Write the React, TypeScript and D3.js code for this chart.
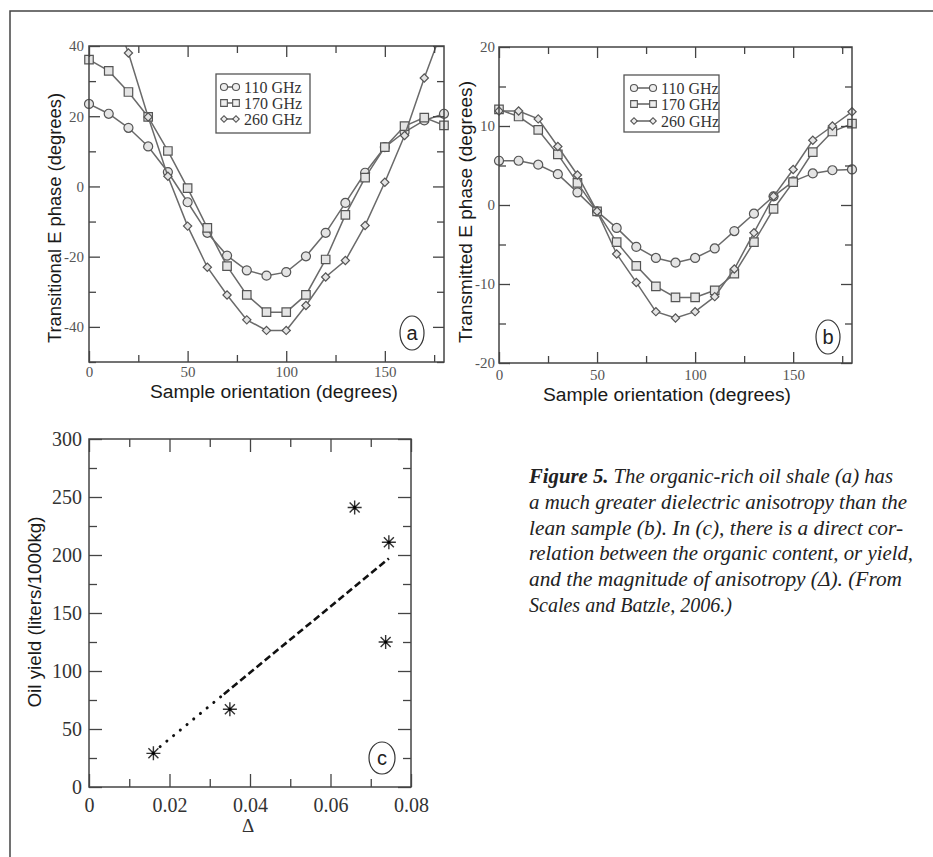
import React, { useRef, useEffect } from 'react';
import * as d3 from 'd3';

// sample orientation (degrees), shared by panels a and b
const angles = [0, 10, 20, 30, 40, 50, 60, 70, 80, 90, 100, 110, 120, 130, 140, 150, 160, 170, 180];
const freqLabels = ['110 GHz', '170 GHz', '260 GHz'];

// panel a: transitional E phase (degrees)
const phaseA110 = [23.5, 20.7, 16.7, 11.4, 4.1, -4.5, -13.2, -19.7, -23.9, -25.4, -24.4, -19.9, -13.2, -4.7, 3.9, 11.2, 15.5, 18.8, 20.7];
const phaseA170 = [36.1, 32.9, 26.9, 19.8, 10.1, -0.5, -11.8, -22.7, -30.9, -35.8, -35.8, -30.9, -20.8, -8.1, 2.5, 11.2, 17.2, 19.6, 17.4];
const phaseA260 = [62, 53, 38, 19.8, 2.9, -11.3, -23, -30.9, -38, -41, -41, -33.9, -25.8, -21.1, -11.1, 1.2, 14.5, 30.9, 46];

// panel b: transmitted E phase (degrees)
const phaseB110 = [5.6, 5.6, 5.1, 3.9, 1.6, -0.8, -2.9, -5.3, -6.7, -7.3, -6.7, -5.5, -3.3, -1.1, 1.1, 3.0, 4.0, 4.4, 4.5];
const phaseB170 = [12.1, 11.2, 9.5, 6.4, 2.8, -0.8, -4.7, -7.7, -10.3, -11.7, -11.7, -10.8, -8.7, -4.7, -0.5, 2.9, 6.7, 9.3, 10.3];
const phaseB260 = [11.9, 11.9, 10.9, 7.4, 3.8, -0.8, -6.2, -9.8, -13.5, -14.3, -13.5, -11.6, -8.1, -3.5, 1.1, 4.5, 8.2, 10.0, 11.8];

// panel c: anisotropy vs oil yield
const deltaValues = [0.016, 0.035, 0.066, 0.0745, 0.0737];
const oilYield = [29, 67, 241, 211, 125];
const fitDelta = [0.016, 0.0335, 0.0745];
const fitYield = [30, 80, 197];

const captionLines = [
  ' The organic-rich oil shale (a) has',
  'a much greater dielectric anisotropy than the',
  'lean sample (b). In (c), there is a direct cor-',
  'relation between the organic content, or yield,',
  'and the magnitude of anisotropy (\u0394). (From',
  'Scales and Batzle, 2006.)',
];
const captionWidths = [364, 378, 374, 384, 373, 203];

const SERIF = "'Liberation Serif', 'Times New Roman', serif";
const SANS = "'Liberation Sans', Arial, sans-serif";
const CURVE = '#6a6a6a';
const INK = '#444';

const symbolTypes = [d3.symbolCircle, d3.symbolSquare, d3.symbolSquare];
const symbolRot = [0, 0, 45];
const symbolSize = [64, 72, 34];

// plain hyphen for negatives, like the original plots
const plainFmt = (v) => String(v);

function drawAxes(g, x, y, o) {
  const [x0, x1] = x.range();
  const [yb, yt] = y.range();
  const sides = [
    { axis: d3.axisBottom, scale: x, t: `translate(0,${yb})`, major: o.xMajor, minor: o.xMinor, label: true, pad: o.xPad, fmt: o.xFmt },
    { axis: d3.axisTop, scale: x, t: `translate(0,${yt})`, major: o.xMajor, minor: o.xMinor },
    { axis: d3.axisLeft, scale: y, t: `translate(${x0},0)`, major: o.yMajor, minor: o.yMinor, label: true, pad: o.yPad, fmt: o.yFmt },
    { axis: d3.axisRight, scale: y, t: `translate(${x1},0)`, major: o.yMajor, minor: o.yMinor },
  ];
  sides.forEach((s) => {
    const gm = g.append('g').attr('transform', s.t)
      .call(s.axis(s.scale).tickValues(s.minor).tickSize(-o.minorLen).tickFormat(() => ''));
    gm.select('.domain').remove();
    const ga = g.append('g').attr('transform', s.t)
      .call(s.axis(s.scale).tickValues(s.major).tickSize(-o.majorLen)
        .tickPadding(s.pad || 0)
        .tickFormat(s.label ? (s.fmt || plainFmt) : () => ''));
    ga.select('.domain').remove();
    ga.selectAll('text')
      .attr('font-family', SERIF)
      .attr('font-size', o.fontSize)
      .attr('fill', o.labelColor);
    g.selectAll('.tick line').attr('stroke', INK).attr('stroke-width', 1.3);
  });
  g.append('rect')
    .attr('x', x0).attr('y', yt)
    .attr('width', x1 - x0).attr('height', yb - yt)
    .attr('fill', 'none').attr('stroke', INK).attr('stroke-width', 1.5);
}

function drawSeries(g, x, y, values, i, clipId) {
  const pts = angles.map((a, k) => ({ a, v: values[k] }));
  const line = d3.line().x((d) => x(d.a)).y((d) => y(d.v));
  g.append('path')
    .datum(pts)
    .attr('clip-path', `url(#${clipId})`)
    .attr('d', line)
    .attr('fill', 'none')
    .attr('stroke', CURVE)
    .attr('stroke-width', 1.5);
  const [lo, hi] = y.domain();
  g.selectAll(null)
    .data(pts.filter((d) => d.v >= lo && d.v <= hi))
    .enter()
    .append('path')
    .attr('d', d3.symbol().type(symbolTypes[i]).size(symbolSize[i]))
    .attr('transform', (d) => `translate(${x(d.a)},${y(d.v)}) rotate(${symbolRot[i]})`)
    .attr('fill', '#e4e4e4')
    .attr('stroke', '#555')
    .attr('stroke-width', 1.2);
}

function drawLegend(g, x0, y0, w, h, rowYs, symX) {
  g.append('rect')
    .attr('x', x0).attr('y', y0).attr('width', w).attr('height', h)
    .attr('fill', '#fff').attr('stroke', '#555').attr('stroke-width', 1.3);
  freqLabels.forEach((lab, i) => {
    const yy = rowYs[i];
    g.append('line')
      .attr('x1', symX[0]).attr('x2', symX[1]).attr('y1', yy).attr('y2', yy)
      .attr('stroke', '#555').attr('stroke-width', 1.4);
    symX.forEach((sx) => {
      g.append('path')
        .attr('d', d3.symbol().type(symbolTypes[i]).size(symbolSize[i] * 0.62))
        .attr('transform', `translate(${sx},${yy}) rotate(${symbolRot[i]})`)
        .attr('fill', '#eee').attr('stroke', '#555').attr('stroke-width', 1.1);
    });
    g.append('text')
      .attr('x', symX[1] + 8).attr('y', yy + 5.5)
      .attr('font-family', SERIF).attr('font-size', 16).attr('fill', '#333')
      .text(lab);
  });
}

function panelTag(g, cx, cy, rx, ry, t) {
  g.append('ellipse')
    .attr('cx', cx).attr('cy', cy).attr('rx', rx).attr('ry', ry)
    .attr('fill', '#fff').attr('stroke', '#333').attr('stroke-width', 1.2);
  g.append('text')
    .attr('x', cx).attr('y', cy + 7)
    .attr('text-anchor', 'middle')
    .attr('font-family', SANS).attr('font-size', 20).attr('fill', '#222')
    .text(t);
}

function axisTitle(g, text, cx, cy, len, rotate, size = 18) {
  g.append('text')
    .attr('transform', rotate ? `translate(${cx},${cy}) rotate(-90)` : `translate(${cx},${cy})`)
    .attr('text-anchor', 'middle')
    .attr('font-family', SANS).attr('font-size', size).attr('fill', '#1a1a1a')
    .attr('textLength', len).attr('lengthAdjust', 'spacingAndGlyphs')
    .text(text);
}

const App = () => {
  const svgRef = useRef(null);

  useEffect(() => {
    const svg = d3.select(svgRef.current);
    svg.selectAll('*').remove();

    // page frame
    svg.append('path')
      .attr('d', 'M10,857 L10,11 L933,11')
      .attr('fill', 'none').attr('stroke', '#444').attr('stroke-width', 1.5);

    const defs = svg.append('defs');

    // ---- panel a
    const xa = d3.scaleLinear().domain([0, 180]).range([89, 444]);
    const ya = d3.scaleLinear().domain([-50, 40]).range([362, 46]);
    defs.append('clipPath').attr('id', 'clipA').append('rect')
      .attr('x', 89).attr('y', 46).attr('width', 355).attr('height', 316);
    const ga = svg.append('g');
    [phaseA110, phaseA170, phaseA260].forEach((vals, i) => drawSeries(ga, xa, ya, vals, i, 'clipA'));
    drawAxes(ga, xa, ya, {
      xMajor: [0, 50, 100, 150], xMinor: [25, 75, 125, 175],
      yMajor: [-40, -20, 0, 20, 40], yMinor: [-50, -30, -10, 10, 30],
      majorLen: 11, minorLen: 7, fontSize: 15, labelColor: '#555', xPad: 4, yPad: 5,
    });
    drawLegend(ga, 216, 74, 94, 59, [87, 103, 119], [224, 236]);
    panelTag(ga, 412, 333, 12, 17, 'a');
    axisTitle(ga, 'Sample orientation (degrees)', 274, 398, 248, false);
    axisTitle(ga, 'Transitional E phase (degrees)', 61, 218, 250, true);

    // ---- panel b
    const xb = d3.scaleLinear().domain([0, 180]).range([499, 852]);
    const yb = d3.scaleLinear().domain([-20, 20]).range([363, 47]);
    defs.append('clipPath').attr('id', 'clipB').append('rect')
      .attr('x', 499).attr('y', 47).attr('width', 353).attr('height', 316);
    const gb = svg.append('g');
    [phaseB110, phaseB170, phaseB260].forEach((vals, i) => drawSeries(gb, xb, yb, vals, i, 'clipB'));
    drawAxes(gb, xb, yb, {
      xMajor: [0, 50, 100, 150], xMinor: [25, 75, 125, 175],
      yMajor: [-20, -10, 0, 10, 20], yMinor: [-15, -5, 5, 15],
      majorLen: 11, minorLen: 7, fontSize: 15, labelColor: '#555', xPad: 6, yPad: 4,
    });
    drawLegend(gb, 624, 75, 95, 57, [88, 104, 121], [634, 653]);
    panelTag(gb, 828, 337, 12, 17, 'b');
    axisTitle(gb, 'Sample orientation (degrees)', 667, 401, 248, false);
    axisTitle(gb, 'Transmitted E phase (degrees)', 472, 212, 262, true);

    // ---- panel c
    const xc = d3.scaleLinear().domain([0, 0.08]).range([89, 411]);
    const yc = d3.scaleLinear().domain([0, 300]).range([787, 439]);
    const gc = svg.append('g');
    const fit = fitDelta.map((d, k) => ({ d, v: fitYield[k] }));
    const fl = d3.line().x((p) => xc(p.d)).y((p) => yc(p.v));
    gc.append('path')
      .datum(fit.slice(0, 2))
      .attr('d', fl)
      .attr('fill', 'none').attr('stroke', '#111').attr('stroke-width', 3)
      .attr('stroke-linecap', 'round').attr('stroke-dasharray', '0.1,8.6');
    gc.append('path')
      .datum(fit.slice(1))
      .attr('d', fl)
      .attr('fill', 'none').attr('stroke', '#111').attr('stroke-width', 2.6)
      .attr('stroke-dasharray', '7,3.6');
    const star = 'M0,-7L0,7M-7,0L7,0M-5,-5L5,5M-5,5L5,-5';
    const pts = deltaValues.map((d, k) => ({ d, v: oilYield[k] }));
    const sg = gc.selectAll('g.star').data(pts).enter().append('g')
      .attr('class', 'star')
      .attr('transform', (p) => `translate(${xc(p.d)},${yc(p.v)})`);
    sg.append('path').attr('d', star).attr('stroke', '#333').attr('stroke-width', 1.4);
    sg.append('circle').attr('r', 1.6).attr('fill', '#000');
    drawAxes(gc, xc, yc, {
      xMajor: [0, 0.02, 0.04, 0.06, 0.08], xMinor: [0.01, 0.03, 0.05, 0.07],
      yMajor: [0, 50, 100, 150, 200, 250, 300], yMinor: [25, 75, 125, 175, 225, 275],
      majorLen: 13, minorLen: 8, fontSize: 20, labelColor: '#333', xPad: 11, yPad: 7,
      xFmt: (v) => (v === 0 ? '0' : d3.format('.2f')(v)),
    });
    panelTag(gc, 382, 758, 13, 16, 'c');
    gc.append('text')
      .attr('x', 248).attr('y', 832)
      .attr('text-anchor', 'middle')
      .attr('font-family', SERIF).attr('font-size', 19).attr('fill', '#333')
      .text('\u0394');
    axisTitle(gc, 'Oil yield (liters/1000kg)', 41, 612, 191, true, 18);

    // ---- caption
    const cap = svg.append('g')
      .attr('font-family', SERIF).attr('font-style', 'italic')
      .attr('font-size', 21).attr('fill', '#222');
    captionLines.forEach((ln, i) => {
      const t = cap.append('text')
        .attr('x', 529).attr('y', 483 + i * 25.8)
        .attr('textLength', captionWidths[i]).attr('lengthAdjust', 'spacingAndGlyphs');
      if (i === 0) {
        t.append('tspan').attr('font-weight', 'bold').text('Figure 5.');
      }
      t.append('tspan').text(ln);
    });
  }, []);

  return (
    <svg
      ref={svgRef}
      width={933}
      height={857}
      style={{ position: 'absolute', left: 0, top: 0, background: '#fff' }}
    ></svg>
  );
};

export default App;
